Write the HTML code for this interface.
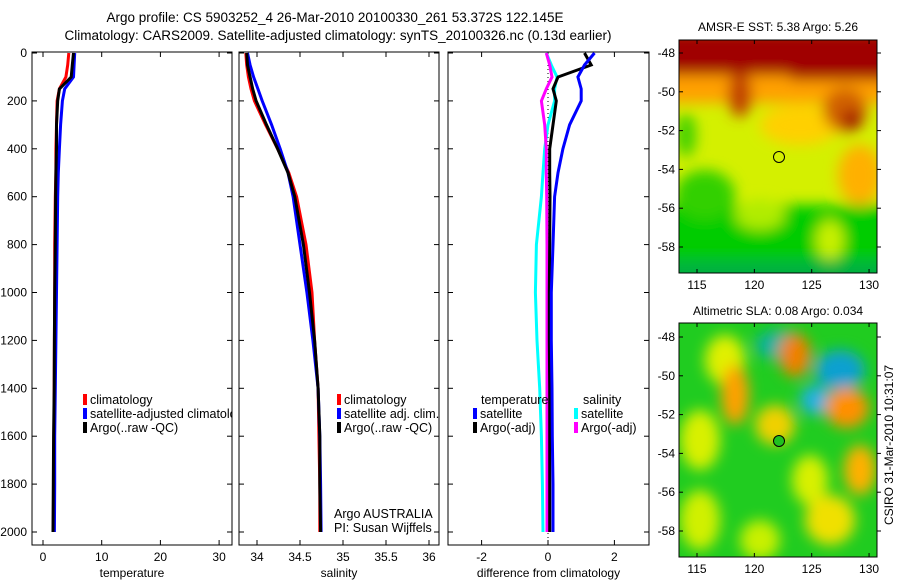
<!DOCTYPE html>
<html><head><meta charset="utf-8"><style>
body{margin:0;background:#fff;}
svg{display:block;font-family:"Liberation Sans",sans-serif;}
</style></head><body>
<svg id="chart" width="900" height="580" viewBox="0 0 900 580">
<defs>
<filter id="bl" x="-20%" y="-20%" width="140%" height="140%"><feGaussianBlur stdDeviation="7"/></filter>
<clipPath id="c1"><rect x="679" y="40" width="198" height="233"/></clipPath>
<clipPath id="c2"><rect x="679" y="323" width="198" height="234"/></clipPath>
<clipPath id="p1"><rect x="32" y="52" width="200" height="493"/></clipPath>
</defs>
<text x="335" y="22" font-size="13.5" text-anchor="middle">Argo profile: CS 5903252_4 26-Mar-2010 20100330_261 53.372S 122.145E</text>
<text x="338" y="40" font-size="13.5" text-anchor="middle">Climatology: CARS2009. Satellite-adjusted climatology: synTS_20100326.nc (0.13d earlier)</text>

<g>
<text x="778" y="31" font-size="12" text-anchor="middle">AMSR-E SST: 5.38 Argo: 5.26</text>
<g clip-path="url(#c1)">
<rect x="679" y="40" width="198" height="233" fill="#d4f000"/>
<g filter="url(#bl)">
<rect x="660" y="205" width="240" height="90" fill="#00cc00"/>
<ellipse cx="705" cy="195" rx="30" ry="25" fill="#30d000"/>
<ellipse cx="760" cy="215" rx="25" ry="15" fill="#b0ec00"/>
<ellipse cx="830" cy="240" rx="14" ry="20" fill="#c8f000"/>
<rect x="660" y="260" width="240" height="30" fill="#00b040"/>
<ellipse cx="686" cy="135" rx="10" ry="22" fill="#40d000"/>
<ellipse cx="860" cy="175" rx="22" ry="30" fill="#ffb000"/>
<ellipse cx="800" cy="125" rx="40" ry="20" fill="#ffd000"/>
<rect x="660" y="75" width="240" height="28" fill="#ffa000"/>
<ellipse cx="740" cy="95" rx="12" ry="22" fill="#c04000"/>
<ellipse cx="845" cy="110" rx="22" ry="22" fill="#d06000"/>
<ellipse cx="852" cy="120" rx="10" ry="10" fill="#a00000"/>
<rect x="660" y="30" width="240" height="45" fill="#a00000"/>
<rect x="790" y="30" width="110" height="50" fill="#a00000"/>
</g>
</g>
<rect x="679" y="40" width="198" height="233" fill="none" stroke="#000"/>
<circle cx="779" cy="157" r="5.5" fill="none" stroke="#000"/>
</g>

<g>
<text x="778" y="315" font-size="12" text-anchor="middle">Altimetric SLA: 0.08 Argo: 0.034</text>
<g clip-path="url(#c2)">
<rect x="679" y="323" width="198" height="234" fill="#20cc20"/>
<g filter="url(#bl)">
<ellipse cx="725" cy="360" rx="20" ry="25" fill="#e0f000"/>
<ellipse cx="735" cy="395" rx="14" ry="30" fill="#ffa000"/>
<ellipse cx="700" cy="440" rx="20" ry="30" fill="#d8f000"/>
<ellipse cx="775" cy="425" rx="20" ry="20" fill="#f0d000"/>
<ellipse cx="780" cy="345" rx="25" ry="15" fill="#10b0a0"/>
<ellipse cx="795" cy="355" rx="16" ry="22" fill="#f08000"/>
<ellipse cx="840" cy="370" rx="25" ry="20" fill="#10a0d0"/>
<ellipse cx="815" cy="400" rx="15" ry="15" fill="#20b0e0"/>
<ellipse cx="847" cy="408" rx="22" ry="20" fill="#ff9000"/>
<ellipse cx="860" cy="470" rx="16" ry="25" fill="#ffb000"/>
<ellipse cx="810" cy="480" rx="18" ry="25" fill="#d8f000"/>
<ellipse cx="830" cy="520" rx="25" ry="25" fill="#f0e000"/>
<ellipse cx="700" cy="520" rx="20" ry="30" fill="#d0f000"/>
<ellipse cx="760" cy="540" rx="20" ry="20" fill="#c8f000"/>
</g>
</g>
<rect x="679" y="323" width="198" height="234" fill="none" stroke="#000"/>
<circle cx="779" cy="441" r="5.5" fill="#20c020" stroke="#000"/>
</g>
<text transform="translate(893,445) rotate(-90)" font-size="12" text-anchor="middle">CSIRO 31-Mar-2010 10:31:07</text>
<g id="dyn"></g>
</svg>
<script>
const depths=[0,50,100,150,200,300,400,500,600,800,1000,1200,1400,1600,1800,2000];
const tempClim=[4.4,4.2,3.9,2.8,2.4,2.3,2.2,2.2,2.1,2.0,2.0,1.95,1.9,1.85,1.8,1.75];
const tempSat=[5.4,5.3,5.2,3.7,3.3,3.0,2.8,2.6,2.5,2.4,2.3,2.2,2.1,2.0,2.0,1.95];
const tempArgo=[5.2,5.0,4.8,2.8,2.5,2.3,2.3,2.2,2.15,2.1,2.0,1.95,1.9,1.8,1.75,1.7];
const salClim=[33.87,33.88,33.9,33.93,33.97,34.1,34.24,34.37,34.46,34.57,34.64,34.67,34.71,34.72,34.73,34.73];
const salSat=[33.89,33.92,33.96,34.01,34.06,34.17,34.27,34.36,34.42,34.50,34.58,34.65,34.71,34.73,34.74,34.745];
const salArgo=[33.88,33.89,33.92,33.95,33.99,34.11,34.24,34.36,34.44,34.54,34.61,34.67,34.71,34.73,34.73,34.74];
const dTempSat=[1.4,1.1,0.9,1.0,1.0,0.65,0.45,0.3,0.2,0.15,0.1,0.1,0.12,0.13,0.15,0.15];
const dTempArgo=[1.1,1.3,0.3,0.15,0.25,0.15,0.05,0.05,0.06,0.05,0.04,0.04,0.05,0.05,0.05,0.05];
const dSalSat=[-0.05,0.1,0.27,0.2,0.2,0.0,-0.1,-0.15,-0.2,-0.35,-0.38,-0.33,-0.25,-0.2,-0.17,-0.15];
const dSalArgo=[-0.05,0.05,0.12,-0.05,-0.2,-0.1,-0.05,-0.05,-0.04,-0.03,-0.03,-0.03,-0.03,-0.03,-0.03,-0.03];
const depthTicks=[0,200,400,600,800,1000,1200,1400,1600,1800,2000];
const tempTicks=[0,10,20,30];
const salTicks=[34,34.5,35,35.5,36];
const diffTicks=[-2,0,2];
const lonTicks=[115,120,125,130];
const latTicks=[48,50,52,54,56,58];

const NS='http://www.w3.org/2000/svg';
const g=document.getElementById('dyn');
function el(t,a,parent){const e=document.createElementNS(NS,t);for(const k in a)e.setAttribute(k,a[k]);(parent||g).appendChild(e);return e;}
const yD=d=>53+0.2395*d;
const panels=[
 {name:'temperature',x0:32,x1:232,f:v=>43+5.87*v,ticks:tempTicks,label:'temperature'},
 {name:'salinity',x0:239,x1:439,f:v=>257+86*(v-34),ticks:salTicks,label:'salinity'},
 {name:'difference',x0:448,x1:649,f:v=>548+33.2*v,ticks:diffTicks,label:'difference from climatology'}
];
panels.forEach((p,i)=>{
 const r=el('rect',{x:p.x0,y:52,width:p.x1-p.x0,height:493,fill:'none',stroke:'#000'});
 
 
 p.ticks.forEach(t=>{
  const x=p.f(t);
  el('line',{x1:x,x2:x,y1:545,y2:540,stroke:'#000'});
  el('line',{x1:x,x2:x,y1:52,y2:57,stroke:'#000'});
  const tx=el('text',{x:x,y:561,'font-size':12,'text-anchor':'middle'});
  tx.textContent=String(t);
  
  
 });
 const lb=el('text',{x:(p.x0+p.x1)/2,y:577,'font-size':12,'text-anchor':'middle'});
 lb.textContent=p.label;
 
 
 depthTicks.forEach(d=>{
  el('line',{x1:p.x0,x2:p.x0+5,y1:yD(d),y2:yD(d),stroke:'#000'});
  el('line',{x1:p.x1,x2:p.x1-5,y1:yD(d),y2:yD(d),stroke:'#000'});
  if(i===0){const t=el('text',{x:27,y:yD(d)+4,'font-size':12,'text-anchor':'end'});t.textContent=String(d);
   
   }
 });
});
const zl=el('line',{x1:panels[2].f(0),x2:panels[2].f(0),y1:53,y2:545,stroke:'#000','stroke-dasharray':'1,3'});


function line(p,vals,color,name){
 const pts=vals.map((v,k)=>p.f(v).toFixed(1)+','+yD(depths[k]).toFixed(1)).join(' ');
 const pl=el('polyline',{points:pts,fill:'none',stroke:color,'stroke-width':3});
 
 
}
line(panels[0],tempClim,'#ff0000','temp-climatology-line');
line(panels[0],tempSat,'#0000ff','temp-satellite-line');
line(panels[0],tempArgo,'#000000','temp-argo-line');
line(panels[1],salClim,'#ff0000','sal-climatology-line');
line(panels[1],salSat,'#0000ff','sal-satellite-line');
line(panels[1],salArgo,'#000000','sal-argo-line');
line(panels[2],dSalSat,'#00ffff','diff-sal-satellite-line');
line(panels[2],dSalArgo,'#ff00ff','diff-sal-argo-line');
line(panels[2],dTempArgo,'#000000','diff-temp-argo-line');
line(panels[2],dTempSat,'#0000ff','diff-temp-satellite-line');
const legP1=el('g',{'clip-path':'url(#p1)'});


function leg(x,y,color,text,name,parent){
 if(color){const m=el('rect',{x:x,y:y-10,width:4,height:11,fill:color},parent);
  
  }
 const t=el('text',{x:x+7,y:y,'font-size':12.5},parent);t.textContent=text;
 
 
}
leg(83,404,'#ff0000','climatology','legend-climatology',legP1);
leg(83,418,'#0000ff','satellite-adjusted climatology','legend-satellite-adjusted',legP1);
leg(83,432,'#000000','Argo(..raw -QC)','legend-argo',legP1);
leg(337,404,'#ff0000','climatology','legend-sal-climatology');
leg(337,418,'#0000ff','satellite adj. clim.','legend-sal-satellite');
leg(337,432,'#000000','Argo(..raw -QC)','legend-sal-argo');
leg(327,518,null,'Argo AUSTRALIA','argo-australia-label');
leg(327,532,null,'PI: Susan Wijffels','pi-label');
leg(474,404,null,'temperature','legend-temperature-heading');
leg(473,418,'#0000ff','satellite','legend-diff-temp-satellite');
leg(473,432,'#000000','Argo(-adj)','legend-diff-temp-argo');
leg(576,404,null,'salinity','legend-salinity-heading');
leg(574,418,'#00ffff','satellite','legend-diff-sal-satellite');
leg(574,432,'#ff00ff','Argo(-adj)','legend-diff-sal-argo');
const lonX=l=>697+11.47*(l-115);
[[40,273,53],[323,557,337]].forEach(([y0,y1,y48],mi)=>{
 lonTicks.forEach(l=>{
  const x=lonX(l);
  el('line',{x1:x,x2:x,y1:y1,y2:y1-4,stroke:'#000'});
  el('line',{x1:x,x2:x,y1:y0,y2:y0+4,stroke:'#000'});
  const t=el('text',{x:x,y:y1+16,'font-size':12,'text-anchor':'middle'});t.textContent=String(l);
  
  
 });
 latTicks.forEach(la=>{
  const y=y48+19.4*(la-48);
  el('line',{x1:679,x2:683,y1:y,y2:y,stroke:'#000'});
  el('line',{x1:877,x2:881,y1:y,y2:y,stroke:'#000'});
  const t=el('text',{x:675,y:y+4,'font-size':12,'text-anchor':'end'});t.textContent='-'+la;
  
  
 });
});
</script>
</body></html>
